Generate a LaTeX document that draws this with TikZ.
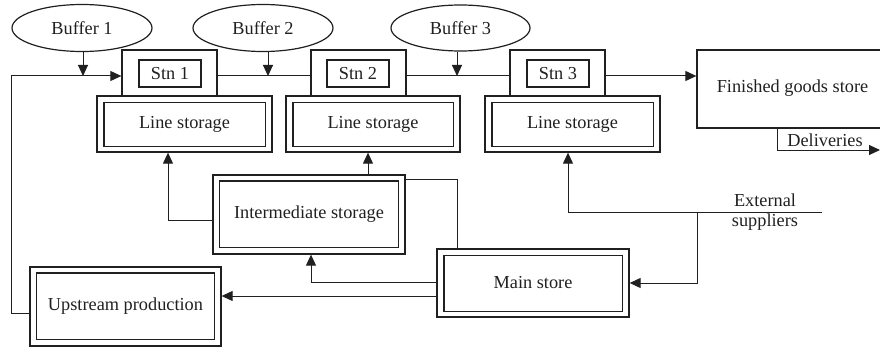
\documentclass[tikz,border=0pt]{standalone}
\usepackage{fontspec}
\setmainfont{Liberation Serif}
\usetikzlibrary{shapes.geometric,arrows.meta}
\definecolor{ink}{HTML}{202020}
\begin{document}
\begin{tikzpicture}[x=1pt,y=-1pt,
  every node/.style={font=\fontsize{18.3}{20}\selectfont, text=ink, inner sep=0pt},
  box/.style={draw=ink, line width=1.3pt, rectangle},
  dbox/.style={draw=ink, line width=1.3pt, rectangle},
  inbox/.style={draw=ink, line width=1.3pt},
  buf/.style={draw=ink, ellipse, line width=1.2pt, minimum width=140pt, minimum height=47pt},
  conn/.style={draw=ink, line width=1pt},
  arr/.style={conn, -{Triangle[length=11pt,width=10pt]}}
]
\useasboundingbox (0,0) rectangle (880,350);

% buffers
\node[buf] (buf1) at (82,28) {Buffer 1};
\node[buf] (buf2) at (263,28) {Buffer 2};
\node[buf, minimum width=139pt, minimum height=46pt] (buf3) at (460.5,28) {Buffer 3};

% stations
\node[box, minimum width=95pt, minimum height=46pt] (st1) at (169.5,73) {};
\node[box, minimum width=62pt, minimum height=27pt] (stn1) at (170,73.5) {Stn 1};
\node[box, minimum width=95pt, minimum height=46pt] (st2) at (358.5,73) {};
\node[box, minimum width=62pt, minimum height=27pt] (stn2) at (358,73.5) {Stn 2};
\node[box, minimum width=95pt, minimum height=46pt] (st3) at (557.5,73) {};
\node[box, minimum width=62pt, minimum height=27pt] (stn3) at (558,73.5) {Stn 3};

% line storages
\node[dbox, minimum width=175pt, minimum height=56pt] (ls1) at (184.5,124) {Line storage};
\node[dbox, minimum width=174pt, minimum height=56pt] (ls2) at (373,124) {Line storage};
\node[dbox, minimum width=175pt, minimum height=56pt] (ls3) at (572.5,124) {Line storage};

% finished goods store (extends past the right edge)
\node[box, minimum width=193pt, minimum height=78pt] (fg) at (793.5,89) {};
\node (fgt) at (792.5,88) {Finished goods store};

% other stores
\node[dbox, minimum width=192pt, minimum height=79pt] (int) at (309,214.5) {Intermediate storage};
\node[dbox, minimum width=192pt, minimum height=68pt] (main) at (533,283) {Main store};
\node[dbox, minimum width=191pt, minimum height=79pt] (up) at (125.5,306.5) {Upstream production};

% inner frames of the double boxes
\foreach \n in {ls1,ls2,ls3,main}
  \draw[inbox] ([shift={(7.5,7)}]\n.north west) rectangle ([shift={(-7.5,-6.5)}]\n.south east);
\foreach \n in {int,up}
  \draw[inbox] ([shift={(7,6.5)}]\n.north west) rectangle ([shift={(-7,-7)}]\n.south east);

% texts
\node (deliv) at (825,140) {Deliveries};
\node[align=center] (extt) at (765,212.5) {External\\suppliers};

% coordinates
\coordinate (mainline) at (0,76);
\coordinate (ext) at (822,212);
\coordinate (branch) at (697,212);
\coordinate (dend) at (880,150);

% main production line
\draw[arr] ([yshift=-6.5pt]up.west) -- ++(-18,0) |- (st1.west |- mainline);
\draw[arr] ([xshift=1pt]buf1.south) -- ([xshift=1pt]buf1.south |- mainline);
\draw[conn] (st1.east |- mainline) -- (st2.west |- mainline);
\draw[arr] ([xshift=5pt]buf2.south) -- ([xshift=5pt]buf2.south |- mainline);
\draw[conn] (st2.east |- mainline) -- (st3.west |- mainline);
\draw[arr] ([xshift=-3.5pt]buf3.south) -- ([xshift=-3.5pt]buf3.south |- mainline);
\draw[arr] (st3.east |- mainline) -- (fg.west |- mainline);

% deliveries
\draw[arr] ([xshift=-16.5pt]fg.south) |- (dend);

% storage flows
\draw[arr] ([yshift=-5.5pt]int.west) -| ([xshift=-16.5pt]ls1.south);
\draw[arr] ([xshift=59pt]int.north) -- ([xshift=-5pt]ls2.south);
\draw[conn] ([xshift=-76pt]main.north) |- ([yshift=35.5pt]int.east);
\draw[arr] ([yshift=1pt]main.west) -| ([xshift=2pt]int.south);
\draw[arr] ([yshift=-13pt]main.west) -- ([yshift=10.5pt]up.east);

% external suppliers
\draw[arr] (ext) -| ([xshift=-4.5pt]ls3.south);
\draw[arr] (branch) |- (main.east);
\end{tikzpicture}
\end{document}
